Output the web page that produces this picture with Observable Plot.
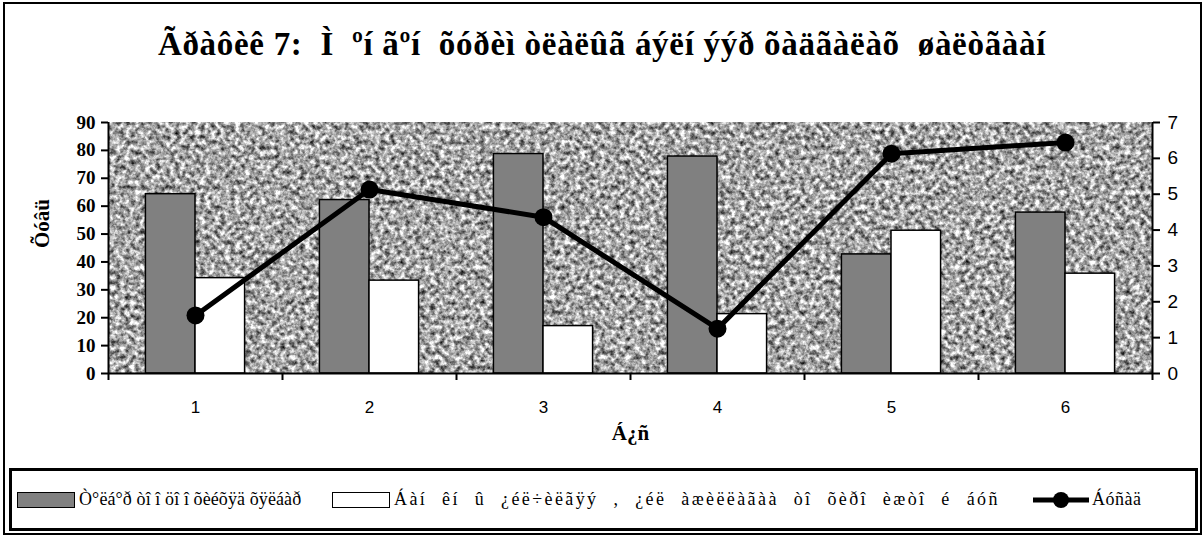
<!DOCTYPE html>
<html>
<head>
<meta charset="utf-8">
<script src="https://cdn.jsdelivr.net/npm/d3@7"></script>
<script src="https://cdn.jsdelivr.net/npm/@observablehq/plot@0.6"></script>
<style>
  html, body { margin: 0; padding: 0; background: #fff; }
  #wrap { position: relative; width: 1204px; height: 535px; overflow: hidden; background: #fff; }
  #outer { position: absolute; left: 3px; top: 2px; width: 1195px; height: 529px; border: 2px solid #000; }
  #title { position: absolute; left: 0; top: 25px; width: 1204px; text-align: center; white-space: pre;
           font-family: "Liberation Serif", serif; font-weight: bold; font-size: 33px; letter-spacing: 0.7px; line-height: 38px; color: #000; }
  #chart { position: absolute; left: 0; top: 90px; }
  #legend { position: absolute; left: 9px; top: 468px; width: 1183px; height: 57px; border: 3px solid #000; background: #fff;
            font-family: "Liberation Serif", serif; font-size: 18px; color: #000; }
  .item { position: absolute; top: 0; height: 57px; display: flex; align-items: center; white-space: pre; }
  .sw { width: 56px; height: 14px; border: 1.5px solid #000; margin-right: 4px; }
</style>
</head>
<body>
<div id="wrap">
  <div id="outer"></div>
  <div id="title"></div>
  <div id="chart"></div>
  <div id="legend"></div>
</div>
<script>
const titleText = "Ãðàôèê 7:  Ì  ºí ãºí  õóðèì òëàëûã áýëí ýýð õàäãàëàõ  øàëòãààí";
const yLabel = "Õóâü";
const xLabel = "Á¿ñ";
const categories = [1, 2, 3, 4, 5, 6];
const seriesNames = [
  "Ò°ëá°ð òî î öî î õèéõÿä õÿëáàð",
  "Áàí êí û ¿éë÷èëãÿý , ¿éë àæèëëàãàà òî õèðî èæòî é áóñ",
  "Áóñàä"
];
const seriesA = [64.3, 62.2, 78.7, 77.8, 42.7, 57.7];
const seriesB = [34.2, 33.3, 17.0, 21.3, 51.2, 35.8];
const seriesC = [1.62, 5.13, 4.36, 1.25, 6.13, 6.44];
const leftTicks = [0, 10, 20, 30, 40, 50, 60, 70, 80, 90];
const rightTicks = [0, 1, 2, 3, 4, 5, 6, 7];

const leftMax = 90, rightMax = 7;
const k = leftMax / rightMax;
const data = categories.map((c, i) => ({cat: c, a: seriesA[i], b: seriesB[i], c: seriesC[i]}));
const boundaries = [0.5, ...categories.map(c => c + 0.5)];
const bw = 0.285;

document.getElementById("title").textContent = titleText;

const chart = Plot.plot({
  width: 1204, height: 378,
  marginTop: 32, marginBottom: 95, marginLeft: 108, marginRight: 52,
  x: {domain: [0.5, 6.5], axis: null},
  y: {domain: [0, leftMax], axis: null},
  style: {background: "transparent", color: "#000", overflow: "visible"},
  marks: [
    Plot.frame({fill: "#aaa", stroke: "#888", strokeWidth: 1}),
    Plot.rectY(data, {x1: d => d.cat - bw, x2: d => d.cat, y: "a", fill: "#808080", stroke: "#000", strokeWidth: 1.5}),
    Plot.rectY(data, {x1: d => d.cat, x2: d => d.cat + bw, y: "b", fill: "#fff", stroke: "#000", strokeWidth: 1.5}),
    Plot.line(data, {x: "cat", y: d => d.c * k, stroke: "#000", strokeWidth: 5}),
    Plot.dot(data, {x: "cat", y: d => d.c * k, r: 9, fill: "#000"}),
    Plot.ruleX([0.5], {stroke: "#000", strokeWidth: 2}),
    Plot.ruleX([6.5], {stroke: "#000", strokeWidth: 2}),
    Plot.ruleY([0], {stroke: "#000", strokeWidth: 2}),
    Plot.axisY(leftTicks, {anchor: "left", tickSize: 7, tickPadding: 6, strokeWidth: 2, fontSize: 19,
      fontFamily: "Liberation Serif", fontWeight: "bold", label: null}),
    Plot.axisY(rightTicks.map(d => d * k), {anchor: "right", tickSize: 7, tickPadding: 8, strokeWidth: 2, fontSize: 19,
      fontFamily: "Liberation Sans", tickFormat: v => String(Math.round(v / k)), label: null}),
    Plot.axisX(categories, {anchor: "bottom", tickSize: 0, tickPadding: 27, fontSize: 17,
      fontFamily: "Liberation Sans", tickFormat: d => String(d), label: null}),
    Plot.axisX(boundaries, {anchor: "bottom", tickSize: 7, strokeWidth: 2, tickFormat: () => "", label: null}),
    Plot.text([xLabel], {frameAnchor: "bottom", dy: 66, text: d => d, fontSize: 21,
      fontFamily: "Liberation Serif", fontWeight: "bold"}),
    Plot.text([yLabel], {frameAnchor: "left", dx: -66, rotate: -90, text: d => d, fontSize: 21,
      fontFamily: "Liberation Serif", fontWeight: "bold"})
  ]
});

// granite texture for the plot area
const ns = "http://www.w3.org/2000/svg";
const defs = document.createElementNS(ns, "defs");
defs.innerHTML = `<filter id="granite" x="0" y="0" width="1" height="1" color-interpolation-filters="sRGB">
  <feTurbulence type="fractalNoise" baseFrequency="0.2" numOctaves="3" seed="7" result="n"/>
  <feColorMatrix in="n" type="matrix" values="1.5 0 0 0 -0.1  1.5 0 0 0 -0.1  1.5 0 0 0 -0.1  0 0 0 0 1"/>
</filter>`;
chart.insertBefore(defs, chart.firstChild);
const frameG = chart.querySelector('[aria-label="frame"]');
if (frameG) {
  const r = frameG.tagName.toLowerCase() === "rect" ? frameG : frameG.querySelector("rect");
  if (r) r.setAttribute("filter", "url(#granite)");
}
document.getElementById("chart").appendChild(chart);

// legend
const legend = document.getElementById("legend");
const items = [
  {left: 5, type: "bar", fill: "#808080", label: seriesNames[0], ls: 0.1, ws: 0},
  {left: 320, type: "bar", fill: "#fff", label: seriesNames[1], ls: 2.4, ws: 8},
  {left: 1020, type: "line", label: seriesNames[2], ls: 0.5, ws: 0}
];
items.forEach(it => {
  const d = document.createElement("div");
  d.className = "item";
  d.style.left = it.left + "px";
  if (it.type === "bar") {
    const s = document.createElement("div");
    s.className = "sw";
    s.style.background = it.fill;
    d.appendChild(s);
  } else {
    const s = document.createElementNS(ns, "svg");
    s.setAttribute("width", 58); s.setAttribute("height", 20);
    s.style.marginRight = "2px";
    s.innerHTML = '<line x1="1" y1="10" x2="57" y2="10" stroke="#000" stroke-width="5"/><circle cx="29" cy="10" r="8" fill="#000"/>';
    d.appendChild(s);
  }
  const t = document.createElement("span");
  t.textContent = it.label;
  t.style.letterSpacing = it.ls + "px";
  t.style.wordSpacing = it.ws + "px";
  d.appendChild(t);
  legend.appendChild(d);
});
</script>
</body>
</html>
